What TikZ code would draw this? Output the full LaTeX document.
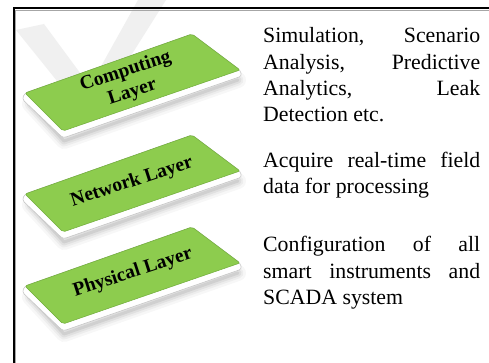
\documentclass[tikz,border=0pt]{standalone}
\usepackage{fontspec}
\setmainfont{Liberation Serif}
\definecolor{slabgreen}{RGB}{141,204,78}
\definecolor{slabedge}{RGB}{112,172,58}
\definecolor{wmark}{RGB}{240,240,240}
\tikzset{
  slablabel/.style={font=\fontsize{19.5}{22}\selectfont\bfseries, align=center, rotate=18, inner sep=0pt, text=black},
  bodyline/.style={font=\fontsize{21.8}{26}\selectfont, anchor=base west, inner sep=0pt},
  slabtop/.style={fill=slabgreen, draw=slabedge, rounded corners=2pt, line width=0.5pt},
  slabside/.style={fill=white, draw=black!22, rounded corners=3pt, line width=0.6pt},
}
\newcommand\drawslab[1]{%
  \begin{scope}[shift={(0,#1)}]
    \foreach \w/\o in {16/0.03,11/0.04,7/0.05,3/0.07}
      \draw[line width=\w pt, black, opacity=\o, line join=round, line cap=round]
        (30,104) -- (64,141) -- (238,80);
    \path[slabside] (25,93) -- (192,34) -- (240,70) -- (242,76) -- (63,138) -- (22,99) -- cycle;
    \path[slabtop] (25,93) -- (192,34) -- (240,70) -- (63,131) -- cycle;
  \end{scope}}
\begin{document}
\begin{tikzpicture}[x=1pt,y=-1pt]
  \useasboundingbox (0,0) rectangle (489,363);
  \fill[white] (0,0) rectangle (489,363);
  % faint watermark
  \fill[wmark] (16,30) -- (44,24) -- (100,100) -- (82,112) -- cycle;
  \fill[wmark] (138,0) -- (166,0) -- (98,108) -- (80,104) -- cycle;
  % frame
  \draw[black!35, line width=0.8pt] (15.6,363) -- (15.6,10.6) -- (489,10.6);
  \draw[black, line width=2pt] (13.5,363) -- (13.5,8.5) -- (489,8.5);
  % slabs
  \drawslab{0}
  \drawslab{101}
  \drawslab{193}
  \node[slablabel] (comp) at (129,82) {Computing\\Layer};
  \node[slablabel] (net) at (132,182) {Network Layer};
  \node[slablabel] (phys) at (133,273) {Physical Layer};
  % descriptions
  \node[bodyline] (t1) at (263,42.7) {\hbox to 217pt{Simulation,\hfill Scenario}};
  \node[bodyline] (t2) at (263,69.3) {\hbox to 217pt{Analysis,\hfill Predictive}};
  \node[bodyline] (t3) at (263,96) {\hbox to 217pt{Analytics,\hfill Leak}};
  \node[bodyline] (t4) at (263,121.7) {Detection etc.};
  \node[bodyline] (t5) at (263,168) {\hbox to 217pt{Acquire\hfill real-time\hfill field}};
  \node[bodyline] (t6) at (263,193.5) {data for processing};
  \node[bodyline] (t7) at (263,251.5) {\hbox to 217pt{Configuration\hfill of\hfill all}};
  \node[bodyline] (t8) at (263,278) {\hbox to 217pt{smart\hfill instruments\hfill and}};
  \node[bodyline] (t9) at (263,304.5) {SCADA system};
\end{tikzpicture}
\end{document}
